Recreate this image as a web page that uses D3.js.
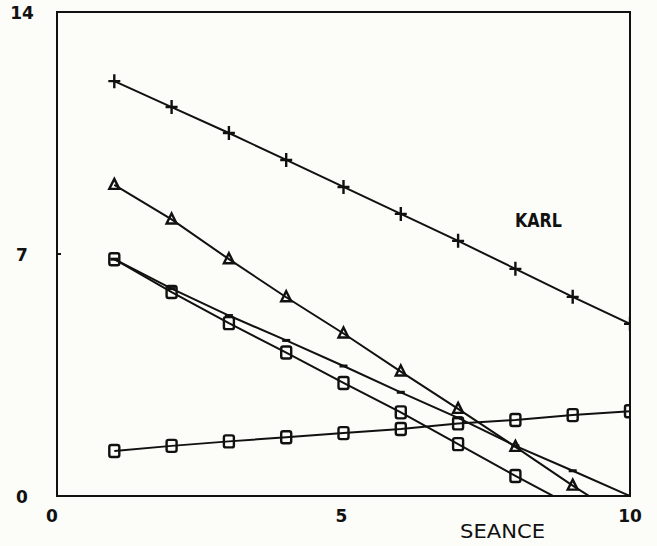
<!doctype html>
<html>
<head>
  <meta charset="utf-8">
  <title>SEANCE</title>
  <style>
  body{
    margin: 0;
    background: #fcfcf8;
  }
  svg text{
    font-family: "DejaVu Sans", sans-serif;
    fill: #111;
  }
  </style>
</head>
<body>
  <svg></svg>

  <script src="https://d3js.org/d3.v7.min.js"></script>
  <script>
  var width = 657;
  var height = 546;

  // data
  var seance = [1, 2, 3, 4, 5, 6, 7, 8, 9, 10];
  var plusValues = [12.0, 11.25, 10.5, 9.72, 8.94, 8.16, 7.38, 6.57, 5.76, 4.98];
  var triangleValues = [9.0, 8.0, 6.85, 5.75, 4.7, 3.6, 2.52, 1.42, 0.3, -0.75];
  var dashValues = [6.85, 6.0, 5.22, 4.5, 3.76, 3.0, 2.26, 1.45, 0.73, 0];
  var squareDownValues = [6.85, 5.9, 5.0, 4.15, 3.27, 2.42, 1.5, 0.58, -0.3];
  var squareUpValues = [1.3, 1.45, 1.58, 1.7, 1.82, 1.94, 2.1, 2.2, 2.34, 2.45];
  var xTicks = [0, 5, 10];
  var yTicks = [0, 7, 14];

  var series = [
    { name: 'plus', marker: 'plus', values: plusValues },
    { name: 'triangle', marker: 'triangle', values: triangleValues },
    { name: 'dash', marker: 'dash', values: dashValues },
    { name: 'squareDown', marker: 'square', values: squareDownValues },
    { name: 'squareUp', marker: 'square', values: squareUpValues }
  ];

  var box = { left: 57, right: 630, top: 12, bottom: 496 };

  var x = d3.scaleLinear().domain([0, 10]).range([box.left, box.right]);
  var y = d3.scaleLinear().domain([0, 14]).range([box.bottom, box.top]);

  var svg = d3.select('svg')
    .attr('width', width)
    .attr('height', height);

  svg.append('clipPath').attr('id', 'plot')
    .append('rect')
      .attr('x', box.left).attr('y', box.top)
      .attr('width', box.right - box.left).attr('height', box.bottom - box.top);

  var line = d3.line()
    .x(function(d){ return x(d.x); })
    .y(function(d){ return y(d.y); });

  var plot = svg.append('g').attr('clip-path', 'url(#plot)');

  series.forEach(function(s){
    var pts = s.values.map(function(v, i){ return { x: seance[i], y: v }; });

    plot.append('path')
      .datum(pts)
      .attr('d', line)
      .attr('fill', 'none')
      .attr('stroke', '#111')
      .attr('stroke-width', 2);

    var marks = plot.selectAll('.m-' + s.name)
      .data(pts.filter(function(p){ return p.y >= 0; }))
      .enter().append('g')
        .attr('class', 'm-' + s.name)
        .attr('transform', function(d){ return 'translate(' + x(d.x) + ',' + y(d.y) + ')'; });

    if(s.marker === 'plus'){
      marks.append('path')
        .attr('d', 'M-6,0H6M0,-7V7')
        .attr('stroke', '#111').attr('stroke-width', 2.4);
    } else if(s.marker === 'triangle'){
      marks.append('path')
        .attr('d', 'M0,-6L5,4H-5Z')
        .attr('fill', 'none')
        .attr('stroke', '#111').attr('stroke-width', 2.4);
    } else if(s.marker === 'dash'){
      marks.append('path')
        .attr('d', 'M-4,0H4')
        .attr('stroke', '#111').attr('stroke-width', 3);
    } else {
      marks.append('rect')
        .attr('x', -5).attr('y', -6)
        .attr('width', 10).attr('height', 12)
        .attr('rx', 2)
        .attr('fill', 'none')
        .attr('stroke', '#111').attr('stroke-width', 2.4);
    }
  });

  // frame
  svg.append('rect')
    .attr('x', box.left).attr('y', box.top)
    .attr('width', box.right - box.left).attr('height', box.bottom - box.top)
    .attr('fill', 'none')
    .attr('stroke', '#111')
    .attr('stroke-width', 2);

  // small inward ticks
  svg.selectAll('.ytick').data(yTicks).enter().append('line')
    .attr('x1', box.left).attr('x2', box.left + 4)
    .attr('y1', function(d){ return y(d); })
    .attr('y2', function(d){ return y(d); })
    .attr('stroke', '#111').attr('stroke-width', 2);

  // tick labels
  svg.selectAll('.ylabel').data(yTicks).enter().append('text')
    .attr('x', 22)
    .attr('y', function(d){ return y(d) + 7; })
    .attr('text-anchor', 'middle')
    .style('font-size', '17px')
    .style('font-weight', 'bold')
    .text(function(d){ return d; });

  svg.selectAll('.xlabel').data(xTicks).enter().append('text')
    .attr('x', function(d){ return x(d) + (d === 0 ? -5 : (d === 10 ? 0 : -2)); })
    .attr('y', 522)
    .attr('text-anchor', 'middle')
    .style('font-size', '17px')
    .style('font-weight', 'bold')
    .text(function(d){ return d; });

  svg.append('text')
    .attr('x', 460).attr('y', 538)
    .attr('textLength', 85)
    .attr('lengthAdjust', 'spacingAndGlyphs')
    .style('font-size', '20px')
    .text('SEANCE');

  svg.append('text')
    .attr('x', 515).attr('y', 227)
    .attr('textLength', 47)
    .attr('lengthAdjust', 'spacingAndGlyphs')
    .style('font-size', '19px')
    .style('font-weight', 'bold')
    .text('KARL');
  </script>
</body>
</html>
